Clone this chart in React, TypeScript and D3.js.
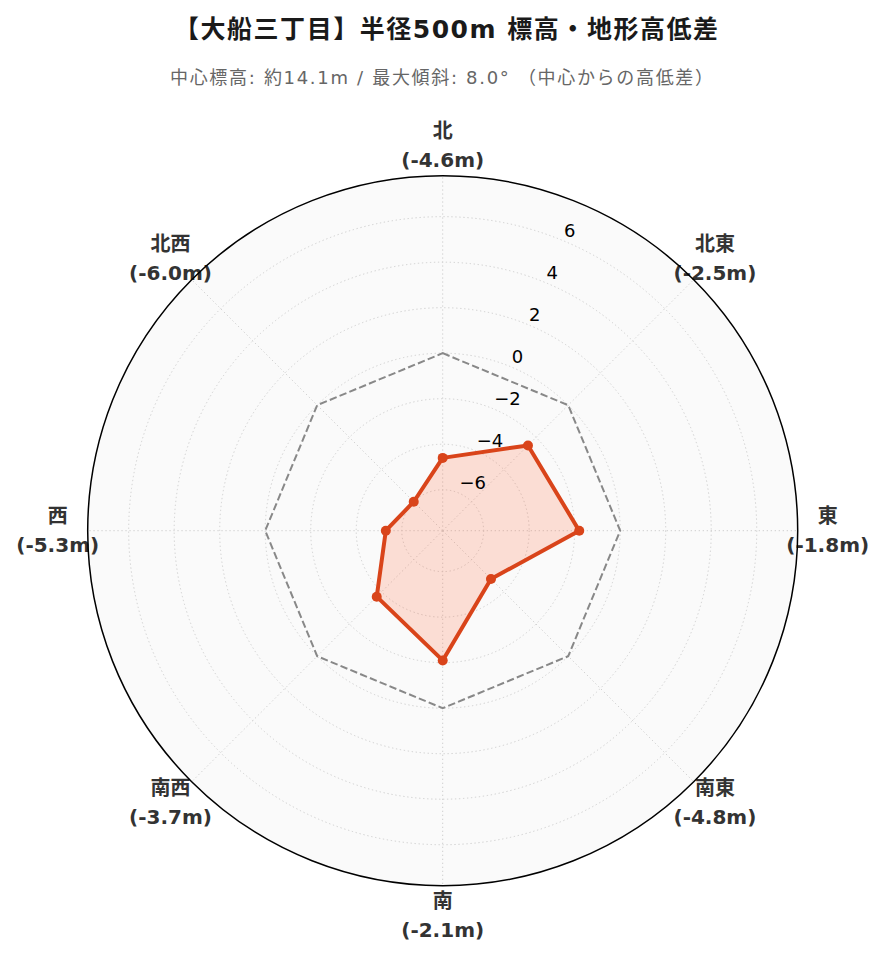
import React from "react";
import * as d3 from "d3";

const directions = ["北", "北東", "東", "南東", "南", "南西", "西", "北西"];
const elevationDiff = [-4.6, -2.5, -1.8, -4.8, -2.1, -3.7, -5.3, -6.0];
const radialTicks = [-6, -4, -2, 0, 2, 4, 6];
const radialLimits = [-7.8, 7.8];
const referenceLevel = 0;
const titleText = "【大船三丁目】半径500m 標高・地形高低差";
const subtitleText = "中心標高: 約14.1m / 最大傾斜: 8.0° （中心からの高低差）";

const W = 885;
const H = 962;
const cx = 442.7;
const cy = 530.7;
const R = 355;

const fmtTick = (v: number) => (v < 0 ? "\u2212" + Math.abs(v) : String(v));
const fmtLabel = (v: number) => `(${v.toFixed(1)}m)`;

export default function App() {
  const r = d3.scaleLinear().domain(radialLimits).range([0, R]);
  const angle = d3
    .scaleLinear()
    .domain([0, directions.length])
    .range([0, 2 * Math.PI]);

  const radial = d3
    .lineRadial<number>()
    .angle((_, i) => angle(i))
    .radius((d) => r(d))
    .curve(d3.curveLinearClosed);

  const pt = (i: number, rad: number) => {
    const a = angle(i);
    return [cx + rad * Math.sin(a), cy - rad * Math.cos(a)];
  };

  const labelAngle = (22.5 * Math.PI) / 180;
  const latin = "'DejaVu Sans', 'Noto Sans CJK JP', sans-serif";

  return (
    <svg
      width={W}
      height={H}
      style={{ position: "absolute", left: 0, top: 0, background: "#fff" }}
    >
      <text
        x={174}
        y={38}
        textLength={544}
        lengthAdjust="spacing"
        fontFamily={latin}
        fontWeight="bold"
        fontSize={25}
        fill="#1a1a1a"
      >
        {titleText}
      </text>
      <text
        x={170}
        y={84}
        textLength={543}
        lengthAdjust="spacing"
        fontFamily={latin}
        fontSize={18}
        fill="#666"
      >
        {subtitleText}
      </text>

      <circle cx={cx} cy={cy} r={R} fill="#fafafa" />

      <g transform={`translate(${cx},${cy})`}>
        {radialTicks.map((t) => (
          <circle
            key={t}
            r={r(t)}
            fill="none"
            stroke="#cfcfcf"
            strokeWidth={1}
            strokeDasharray="1.3,2.7"
          />
        ))}
        {directions.map((_, i) => {
          const a = angle(i);
          return (
            <line
              key={i}
              x1={0}
              y1={0}
              x2={R * Math.sin(a)}
              y2={-R * Math.cos(a)}
              stroke="#cfcfcf"
              strokeWidth={1}
              strokeDasharray="1.3,2.7"
            />
          );
        })}
        <path
          d={radial(directions.map(() => referenceLevel)) || ""}
          fill="none"
          stroke="#888"
          strokeWidth={2}
          strokeDasharray="7.4,3.2"
        />
        <path
          d={radial(elevationDiff) || ""}
          fill="#ff6a3d"
          fillOpacity={0.2}
          stroke="none"
        />
        <path
          d={radial(elevationDiff) || ""}
          fill="none"
          stroke="#d9441a"
          strokeWidth={4}
          strokeLinejoin="round"
        />
        {elevationDiff.map((v, i) => {
          const a = angle(i);
          return (
            <circle
              key={i}
              cx={r(v) * Math.sin(a)}
              cy={-r(v) * Math.cos(a)}
              r={5}
              fill="#d9441a"
            />
          );
        })}
      </g>

      {radialTicks.map((t) => (
        <text
          key={t}
          x={cx + r(t) * Math.sin(labelAngle) + 1}
          y={cy - r(t) * Math.cos(labelAngle) - 3.5}
          fontFamily={latin}
          fontSize={18}
          fill="#000"
        >
          {fmtTick(t)}
        </text>
      ))}

      {directions.map((d, i) => {
        const [x, y] = pt(i, R + 30);
        return (
          <g key={d} fontFamily={latin} fontWeight="bold" fontSize={20} fill="#333" textAnchor="middle">
            <text x={x} y={y - 14.5} dominantBaseline="central">
              {d}
            </text>
            <text x={x} y={y + 14.5} dominantBaseline="central">
              {fmtLabel(elevationDiff[i])}
            </text>
          </g>
        );
      })}

      <circle cx={cx} cy={cy} r={R} fill="none" stroke="#000" strokeWidth={1.5} />
    </svg>
  );
}
